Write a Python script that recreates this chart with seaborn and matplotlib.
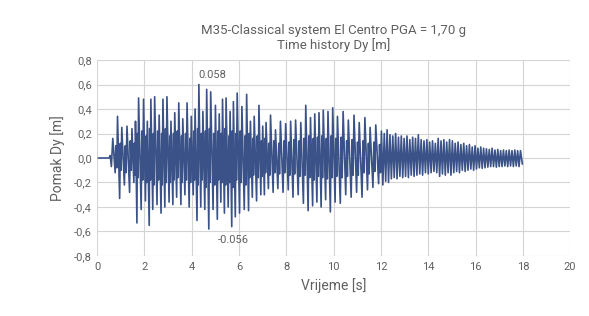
import matplotlib
matplotlib.use("Agg")
import matplotlib.pyplot as plt
import seaborn as sns
import pandas as pd

# lead-in before the motion starts
t_start = [0.05, 0.50, 0.55, 0.60]
d_start = [0.0, 0.0, 0.02, -0.07]

# positive peaks (time [s], displacement [m])
t_pos = [0.66, 0.86, 1.04, 1.26, 1.47, 1.62, 1.75, 1.96, 2.12, 2.27,
         2.43, 2.62, 2.78, 2.95, 3.12, 3.28, 3.45, 3.62, 3.80, 3.98,
         4.14, 4.30, 4.47, 4.63, 4.80, 5.00, 5.16, 5.30, 5.45, 5.62,
         5.76, 5.92, 6.12, 6.32, 6.48, 6.64, 6.84, 7.00, 7.14, 7.33,
         7.54, 7.75, 7.97, 8.18, 8.39, 8.61, 8.82, 9.02, 9.20, 9.38,
         9.56, 9.76, 9.96, 10.16, 10.40, 10.62, 10.86, 11.08, 11.32, 11.54,
         11.78,
         12.02, 12.14, 12.26, 12.38, 12.50, 12.62, 12.74, 12.86, 12.98, 13.10,
         13.22, 13.34, 13.46, 13.58, 13.70, 13.82, 13.94, 14.06, 14.18, 14.30,
         14.42, 14.54, 14.66, 14.78, 14.90, 15.02, 15.14, 15.26, 15.38, 15.50,
         15.62, 15.74, 15.86, 15.98, 16.10, 16.22, 16.34, 16.46, 16.58, 16.70,
         16.82, 16.94, 17.06, 17.18, 17.30, 17.42, 17.54, 17.66, 17.78, 17.90]
d_pos = [0.16, 0.34, 0.25, 0.26, 0.24, 0.30, 0.49, 0.48, 0.30, 0.48,
         0.50, 0.35, 0.48, 0.50, 0.30, 0.37, 0.45, 0.32, 0.45, 0.34,
         0.40, 0.60, 0.38, 0.56, 0.54, 0.43, 0.36, 0.48, 0.49, 0.38,
         0.46, 0.53, 0.42, 0.52, 0.30, 0.34, 0.43, 0.26, 0.29, 0.35,
         0.23, 0.30, 0.28, 0.30, 0.31, 0.29, 0.43, 0.33, 0.36, 0.37,
         0.39, 0.38, 0.41, 0.34, 0.38, 0.31, 0.35, 0.29, 0.33, 0.25,
         0.27,
         0.22, 0.20, 0.23, 0.19, 0.18, 0.20, 0.17, 0.18, 0.16, 0.18,
         0.15, 0.17, 0.16, 0.19, 0.15, 0.14, 0.15, 0.13, 0.14, 0.12,
         0.16, 0.14, 0.15, 0.13, 0.15, 0.14, 0.12, 0.13, 0.11, 0.12,
         0.10, 0.11, 0.09, 0.10, 0.08, 0.09, 0.08, 0.075, 0.07, 0.08,
         0.065, 0.07, 0.06, 0.065, 0.06, 0.065, 0.06, 0.065, 0.06, 0.06]

# negative peaks
t_neg = [0.76, 0.95, 1.15, 1.37, 1.55, 1.68, 1.86, 2.04, 2.20, 2.35,
         2.53, 2.70, 2.86, 3.04, 3.20, 3.36, 3.54, 3.71, 3.89, 4.06,
         4.22, 4.38, 4.55, 4.72, 4.90, 5.08, 5.23, 5.38, 5.54, 5.69,
         5.84, 6.02, 6.22, 6.40, 6.56, 6.74, 6.92, 7.07, 7.24, 7.44,
         7.64, 7.86, 8.08, 8.28, 8.50, 8.72, 8.92, 9.11, 9.29, 9.47,
         9.66, 9.86, 10.06, 10.28, 10.51, 10.74, 10.97, 11.20, 11.43, 11.66,
         11.90,
         12.08, 12.20, 12.32, 12.44, 12.56, 12.68, 12.80, 12.92, 13.04, 13.16,
         13.28, 13.40, 13.52, 13.64, 13.76, 13.88, 14.00, 14.12, 14.24, 14.36,
         14.48, 14.60, 14.72, 14.84, 14.96, 15.08, 15.20, 15.32, 15.44, 15.56,
         15.68, 15.80, 15.92, 16.04, 16.16, 16.28, 16.40, 16.52, 16.64, 16.76,
         16.88, 17.00, 17.12, 17.24, 17.36, 17.48, 17.60, 17.72, 17.84, 17.98]
d_neg = [-0.12, -0.33, -0.22, -0.28, -0.20, -0.53, -0.42, -0.35, -0.55, -0.42,
         -0.38, -0.45, -0.40, -0.36, -0.38, -0.32, -0.38, -0.30, -0.40, -0.30,
         -0.51, -0.40, -0.42, -0.58, -0.42, -0.50, -0.36, -0.45, -0.40, -0.56,
         -0.48, -0.45, -0.42, -0.43, -0.32, -0.35, -0.30, -0.30, -0.25, -0.28,
         -0.25, -0.28, -0.26, -0.32, -0.30, -0.37, -0.43, -0.39, -0.36, -0.40,
         -0.34, -0.44, -0.36, -0.37, -0.30, -0.32, -0.28, -0.32, -0.26, -0.24,
         -0.21,
         -0.22, -0.19, -0.20, -0.17, -0.16, -0.17, -0.15, -0.16, -0.15, -0.16,
         -0.14, -0.15, -0.14, -0.13, -0.14, -0.12, -0.13, -0.12, -0.11, -0.12,
         -0.15, -0.13, -0.14, -0.12, -0.14, -0.12, -0.11, -0.12, -0.10, -0.11,
         -0.10, -0.09, -0.10, -0.09, -0.08, -0.085, -0.08, -0.075, -0.07, -0.07,
         -0.075, -0.07, -0.07, -0.065, -0.07, -0.065, -0.07, -0.065, -0.07, -0.05]

# smaller in-between wiggles (up then down) that fill the band up to 12 s
t_mid = [0.79, 0.83, 0.98, 1.01, 1.19, 1.22, 1.40, 1.44, 1.57, 1.60,
         1.70, 1.73, 1.89, 1.93, 2.07, 2.09, 2.22, 2.25, 2.38, 2.40,
         2.56, 2.59, 2.73, 2.75, 2.89, 2.92, 3.07, 3.09, 3.23, 3.25,
         3.39, 3.42, 3.57, 3.59, 3.74, 3.77, 3.92, 3.95, 4.09, 4.11,
         4.25, 4.27, 4.41, 4.44, 4.58, 4.60, 4.75, 4.77, 4.93, 4.97,
         5.11, 5.13, 5.25, 5.28, 5.40, 5.43, 5.57, 5.59, 5.71, 5.74,
         5.87, 5.89, 6.05, 6.09, 6.25, 6.29, 6.43, 6.45, 6.59, 6.61,
         6.77, 6.81, 6.95, 6.97, 7.09, 7.12, 7.27, 7.30, 7.47, 7.51,
         7.68, 7.71, 7.90, 7.93, 8.11, 8.15, 8.32, 8.35, 8.54, 8.57,
         8.75, 8.79, 8.95, 8.99, 9.14, 9.17, 9.32, 9.35, 9.50, 9.53,
         9.69, 9.73, 9.89, 9.93, 10.09, 10.13, 10.32, 10.36, 10.55, 10.58,
         10.78, 10.82, 11.01, 11.04, 11.24, 11.28, 11.47, 11.50, 11.70, 11.74,
         11.94, 11.98]
d_mid = [0.10, -0.08, 0.12, -0.10, 0.10, -0.12, 0.14, -0.10, 0.12, -0.14,
         0.20, -0.16, 0.22, -0.18, 0.18, -0.20, 0.24, -0.18, 0.20, -0.22,
         0.22, -0.18, 0.20, -0.22, 0.24, -0.20, 0.18, -0.20, 0.20, -0.18,
         0.22, -0.16, 0.18, -0.20, 0.20, -0.18, 0.16, -0.20, 0.22, -0.18,
         0.24, -0.22, 0.20, -0.18, 0.22, -0.24, 0.24, -0.20, 0.20, -0.22,
         0.22, -0.18, 0.20, -0.20, 0.24, -0.22, 0.18, -0.20, 0.22, -0.24,
         0.20, -0.18, 0.22, -0.20, 0.18, -0.22, 0.20, -0.16, 0.16, -0.14,
         0.18, -0.16, 0.14, -0.15, 0.16, -0.12, 0.12, -0.14, 0.14, -0.12,
         0.12, -0.13, 0.14, -0.12, 0.13, -0.14, 0.15, -0.13, 0.14, -0.15,
         0.16, -0.14, 0.18, -0.16, 0.16, -0.18, 0.17, -0.15, 0.18, -0.16,
         0.16, -0.17, 0.18, -0.16, 0.16, -0.15, 0.17, -0.16, 0.14, -0.15,
         0.15, -0.14, 0.13, -0.14, 0.14, -0.12, 0.12, -0.13, 0.13, -0.11,
         0.11, -0.12]

x_ticks = [0, 2, 4, 6, 8, 10, 12, 14, 16, 18, 20]
y_ticks = [-0.8, -0.6, -0.4, -0.2, 0.0, 0.2, 0.4, 0.6, 0.8]
max_label = "0.058"
min_label = "-0.056"

df = pd.DataFrame({
    "t": t_start + t_pos + t_neg + t_mid,
    "d": d_start + d_pos + d_neg + d_mid,
}).sort_values("t")

sns.set_style("whitegrid")
plt.rcParams['font.family'] = ['Roboto', 'DejaVu Sans']
text_col = "#606060"

fig, ax = plt.subplots(figsize=(5.89, 3.16), dpi=100)
fig.subplots_adjust(left=0.165, right=0.968, top=0.81, bottom=0.19)

sns.lineplot(data=df, x="t", y="d", ax=ax, color="#3a5288",
             linewidth=1.2, estimator=None, sort=True)

ax.set_xlim(0, 20)
ax.set_ylim(-0.8, 0.8)
ax.set_xticks(x_ticks)
ax.set_yticks(y_ticks)
ax.set_xticklabels([str(v) for v in x_ticks])
ax.set_yticklabels([f"{v:.1f}".replace(".", ",") for v in y_ticks])
ax.tick_params(labelsize=8, colors=text_col, length=0, pad=4)
ax.grid(True, color="#d4d4d4", linewidth=0.8)
for s in ax.spines.values():
    s.set_visible(False)

ax.set_xlabel("Vrijeme [s]", fontsize=10, color=text_col, labelpad=5)
ax.set_ylabel("Pomak Dy [m]", fontsize=10, color=text_col, labelpad=6)
ax.set_title("M35-Classical system El Centro PGA = 1,70 g\nTime history Dy [m]",
             fontsize=9.5, color=text_col, pad=8, linespacing=1.1)

ax.text(4.3, 0.635, max_label, fontsize=8, color=text_col, ha="left", va="bottom")
ax.text(5.1, -0.63, min_label, fontsize=8, color=text_col, ha="left", va="top")

fig.savefig("out.png", dpi=100)
